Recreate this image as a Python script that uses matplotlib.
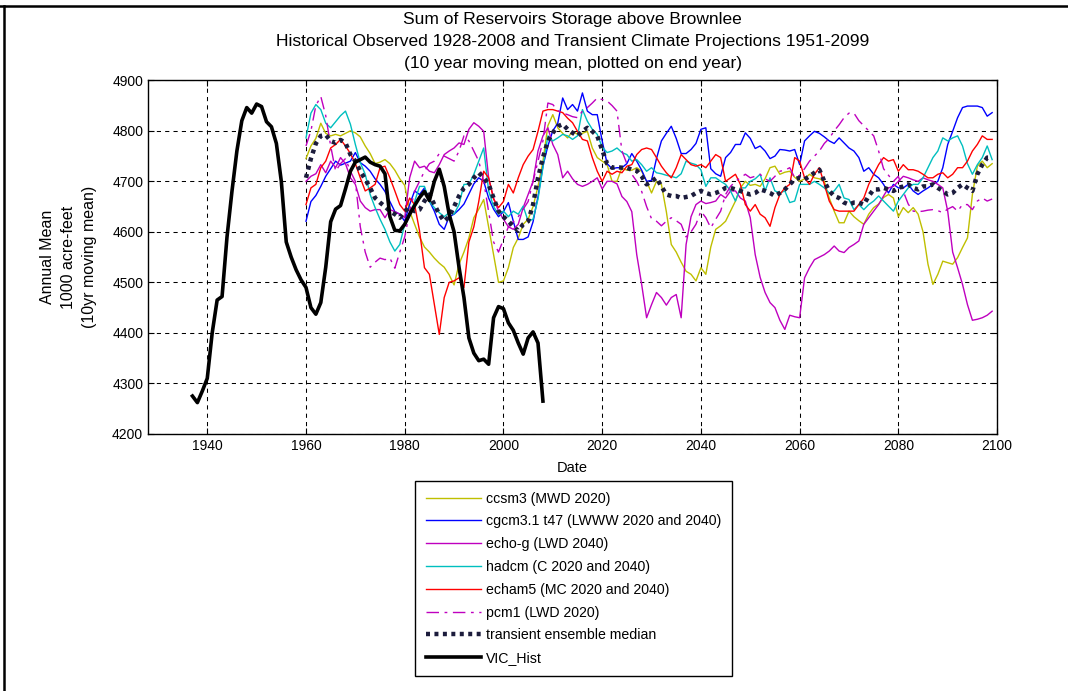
import numpy as np
import matplotlib
matplotlib.use("Agg")
import matplotlib.pyplot as plt
from matplotlib.lines import Line2D

plt.rcParams['font.family'] = ['Liberation Sans', 'DejaVu Sans']

# ---- data ----
hist_years = list(range(1937, 2009))
vic_hist = [4275, 4262, 4285, 4310, 4400, 4465, 4472, 4590, 4680, 4760,
            4820, 4846, 4835, 4853, 4848, 4818, 4808, 4775, 4700, 4580,
            4550, 4525, 4505, 4490, 4450, 4437, 4460, 4530, 4620, 4645,
            4652, 4685, 4720, 4738, 4743, 4748, 4738, 4733, 4730, 4715,
            4630, 4603, 4602, 4615, 4635, 4652, 4668, 4680, 4662, 4700,
            4724, 4690, 4635, 4600, 4530, 4470, 4390, 4360, 4345, 4348,
            4338, 4430, 4452, 4448, 4420, 4405, 4380, 4358, 4390, 4402,
            4380, 4265]

proj_years = list(range(1960, 2100))

ccsm3 = [4745, 4770, 4785, 4815, 4795, 4790, 4793, 4790, 4795, 4800,
         4796, 4788, 4770, 4755, 4735, 4738, 4743, 4735, 4722, 4705,
         4692, 4641, 4615, 4590, 4570, 4560, 4548, 4538, 4530, 4515,
         4495, 4536, 4560, 4588, 4628, 4645, 4664, 4610, 4555, 4500,
         4503, 4529, 4569, 4588, 4615, 4625, 4650, 4690, 4740, 4810,
         4832, 4806, 4795, 4786, 4799, 4793, 4795, 4799, 4766, 4747,
         4740, 4733, 4700, 4700, 4727, 4722, 4722, 4727, 4720, 4700,
         4677, 4700, 4694, 4640, 4575, 4560, 4540, 4522, 4516, 4503,
         4529, 4516, 4570, 4605, 4612, 4621, 4641, 4661, 4687, 4700,
         4692, 4694, 4690, 4705, 4727, 4730, 4714, 4718, 4720, 4708,
         4700, 4705, 4714, 4707, 4705, 4700, 4667, 4641, 4618, 4618,
         4641, 4630, 4622, 4615, 4635, 4648, 4655, 4668, 4674, 4667,
         4630, 4648, 4638, 4648, 4635, 4600, 4536, 4496, 4516, 4542,
         4539, 4536, 4549, 4569, 4588, 4674, 4730, 4740, 4727, 4735]

cgcm31 = [4621, 4660, 4672, 4690, 4710, 4725, 4740, 4732, 4736, 4740,
          4757, 4737, 4730, 4720, 4705, 4694, 4680, 4660, 4640, 4635,
          4621, 4654, 4681, 4674, 4687, 4661, 4641, 4615, 4605, 4630,
          4635, 4644, 4655, 4675, 4695, 4707, 4700, 4667, 4645, 4630,
          4640, 4658, 4621, 4585, 4585, 4590, 4620, 4670, 4730, 4770,
          4800, 4815, 4865, 4842, 4852, 4839, 4875, 4839, 4832, 4832,
          4780, 4735, 4725, 4727, 4727, 4735, 4755, 4740, 4722, 4700,
          4702, 4745, 4780, 4795, 4809, 4785, 4755, 4755, 4763, 4775,
          4803, 4806, 4725, 4715, 4710, 4747, 4757, 4773, 4773, 4796,
          4785, 4765, 4770, 4760, 4745, 4750, 4763, 4762, 4760, 4763,
          4733, 4780, 4790, 4799, 4795, 4788, 4780, 4775, 4786, 4776,
          4766, 4760, 4747, 4720, 4727, 4714, 4707, 4694, 4677, 4694,
          4687, 4687, 4694, 4681, 4674, 4681, 4687, 4694, 4700, 4727,
          4773, 4799, 4826, 4846, 4849, 4849, 4849, 4846, 4829, 4836]

echo_g = [4700, 4710, 4715, 4733, 4717, 4740, 4727, 4747, 4735, 4707,
          4694, 4661, 4648, 4641, 4644, 4644, 4628, 4644, 4640, 4635,
          4628, 4707, 4740, 4727, 4730, 4720, 4717, 4733, 4753, 4760,
          4766, 4776, 4773, 4803, 4816, 4809, 4799, 4707, 4667, 4641,
          4625, 4610, 4605, 4615, 4648, 4674, 4700, 4760, 4790, 4806,
          4773, 4753, 4707, 4720, 4705, 4694, 4690, 4694, 4700, 4707,
          4685, 4700, 4700, 4695, 4670, 4660, 4640, 4555, 4496, 4430,
          4456, 4480, 4470, 4455, 4470, 4476, 4430, 4575, 4630, 4654,
          4661, 4656, 4658, 4661, 4674, 4667, 4681, 4681, 4667, 4661,
          4628, 4555, 4510, 4480, 4460, 4450, 4425, 4407, 4435, 4432,
          4430, 4509, 4529, 4545, 4550, 4555, 4562, 4572, 4562, 4559,
          4569, 4575, 4582, 4615, 4628, 4641, 4654, 4671, 4687, 4690,
          4700, 4710, 4707, 4703, 4700, 4707, 4703, 4700, 4694, 4687,
          4641, 4560, 4529, 4496, 4456, 4425, 4427, 4430, 4435, 4443]

hadcm = [4786, 4835, 4852, 4842, 4815, 4806, 4818, 4830, 4839, 4813,
         4773, 4737, 4714, 4674, 4648, 4625, 4605, 4580, 4562, 4575,
         4615, 4632, 4660, 4690, 4690, 4660, 4648, 4638, 4630, 4638,
         4635, 4654, 4694, 4694, 4714, 4740, 4766, 4681, 4650, 4635,
         4641, 4630, 4641, 4635, 4651, 4621, 4625, 4665, 4727, 4790,
         4780, 4786, 4793, 4790, 4783, 4790, 4842, 4819, 4803, 4793,
         4768, 4757, 4760, 4766, 4757, 4753, 4740, 4743, 4733, 4720,
         4727, 4717, 4715, 4712, 4710, 4707, 4715, 4740, 4736, 4733,
         4723, 4690, 4707, 4707, 4700, 4694, 4681, 4661, 4687, 4687,
         4700, 4705, 4714, 4681, 4707, 4681, 4677, 4681, 4658, 4661,
         4694, 4694, 4694, 4700, 4694, 4687, 4677, 4681, 4694, 4667,
         4664, 4644, 4654, 4644, 4654, 4661, 4671, 4661, 4651, 4641,
         4661, 4674, 4687, 4694, 4694, 4707, 4727, 4747, 4760, 4786,
         4780, 4786, 4790, 4770, 4735, 4714, 4733, 4747, 4770, 4743]

echam5 = [4654, 4687, 4694, 4727, 4740, 4766, 4773, 4783, 4770, 4755,
          4735, 4707, 4681, 4687, 4694, 4727, 4730, 4707, 4681, 4654,
          4641, 4667, 4654, 4602, 4529, 4516, 4456, 4397, 4470, 4500,
          4503, 4509, 4490, 4580, 4610, 4660, 4720, 4707, 4665, 4648,
          4660, 4694, 4677, 4707, 4733, 4750, 4763, 4799, 4839, 4842,
          4842, 4839, 4836, 4825, 4816, 4799, 4783, 4780, 4747, 4720,
          4700, 4720, 4714, 4720, 4717, 4730, 4733, 4753, 4763, 4766,
          4763, 4747, 4730, 4717, 4707, 4727, 4753, 4743, 4733, 4730,
          4733, 4727, 4740, 4753, 4747, 4700, 4707, 4714, 4694, 4654,
          4641, 4654, 4635, 4628, 4611, 4648, 4674, 4687, 4694, 4747,
          4740, 4707, 4694, 4714, 4727, 4694, 4661, 4644, 4641, 4641,
          4641, 4641, 4654, 4667, 4694, 4714, 4733, 4747, 4740, 4743,
          4720, 4733, 4723, 4723, 4720, 4714, 4707, 4707, 4714, 4717,
          4707, 4714, 4727, 4727, 4740, 4760, 4773, 4790, 4783, 4783]

pcm1 = [4770, 4800, 4850, 4868, 4830, 4770, 4720, 4735, 4745, 4720,
        4700, 4610, 4560, 4530, 4540, 4548, 4545, 4548, 4528, 4560,
        4590, 4640, 4680, 4700, 4720, 4735, 4740, 4755, 4750, 4745,
        4740, 4760, 4790, 4780, 4760, 4740, 4700, 4640, 4580, 4560,
        4585, 4610, 4620, 4630, 4645, 4660, 4700, 4740, 4780, 4855,
        4852, 4840, 4835, 4832, 4828, 4826, 4839, 4846, 4855, 4865,
        4862, 4859, 4850, 4839, 4760, 4735, 4714, 4700, 4680, 4650,
        4626, 4621, 4612, 4621, 4628, 4622, 4615, 4590, 4600, 4615,
        4641, 4628, 4608, 4625, 4641, 4674, 4690, 4700, 4707, 4714,
        4707, 4710, 4714, 4705, 4700, 4710, 4720, 4722, 4727, 4707,
        4712, 4725, 4740, 4750, 4760, 4775, 4785, 4800, 4812, 4826,
        4835, 4835, 4820, 4810, 4800, 4790, 4760, 4725, 4712, 4700,
        4710, 4680, 4655, 4641, 4640, 4641, 4643, 4644, 4642, 4638,
        4645, 4650, 4641, 4654, 4654, 4644, 4661, 4667, 4661, 4665]

ens_median = [4707, 4745, 4775, 4790, 4792, 4780, 4776, 4782, 4776, 4753,
              4740, 4720, 4704, 4687, 4667, 4658, 4650, 4641, 4635, 4628,
              4641, 4648, 4641, 4644, 4661, 4674, 4654, 4635, 4621, 4630,
              4650, 4671, 4687, 4694, 4707, 4717, 4707, 4694, 4667, 4641,
              4630, 4621, 4611, 4602, 4615, 4621, 4654, 4707, 4747, 4780,
              4796, 4809, 4813, 4803, 4796, 4790, 4799, 4806, 4799, 4790,
              4762, 4735, 4727, 4728, 4727, 4727, 4723, 4721, 4710, 4694,
              4700, 4707, 4690, 4674, 4671, 4671, 4667, 4669, 4671, 4677,
              4681, 4677, 4674, 4677, 4681, 4687, 4687, 4684, 4681, 4677,
              4674, 4677, 4684, 4681, 4677, 4671, 4677, 4684, 4694, 4704,
              4707, 4704, 4710, 4717, 4723, 4700, 4681, 4671, 4667, 4658,
              4654, 4658, 4658, 4654, 4671, 4684, 4684, 4687, 4684, 4681,
              4687, 4690, 4694, 4687, 4684, 4690, 4690, 4694, 4687, 4681,
              4674, 4677, 4687, 4694, 4687, 4681, 4714, 4733, 4747, 4747]

labels = ["ccsm3 (MWD 2020)",
          "cgcm3.1 t47 (LWWW 2020 and 2040)",
          "echo-g (LWD 2040)",
          "hadcm (C 2020 and 2040)",
          "echam5 (MC 2020 and 2040)",
          "pcm1 (LWD 2020)",
          "transient ensemble median",
          "VIC_Hist"]

# ---- figure ----
fig = plt.figure(figsize=(10.68, 6.91), dpi=100)
ax = fig.add_axes([0.1386, 0.372, 0.795, 0.5118])

ax.plot(proj_years, ccsm3, color=(0.75, 0.75, 0), lw=1, label=labels[0])
ax.plot(proj_years, cgcm31, color=(0, 0, 1), lw=1, label=labels[1])
ax.plot(proj_years, echo_g, color=(0.75, 0, 0.75), lw=1, label=labels[2])
ax.plot(proj_years, hadcm, color=(0, 0.75, 0.75), lw=1, label=labels[3])
ax.plot(proj_years, echam5, color=(1, 0, 0), lw=1, label=labels[4])
ax.plot(proj_years, pcm1, color=(0.75, 0, 0.75), lw=1,
        linestyle=(0, (9, 4, 2, 4)), label=labels[5])
ax.plot(proj_years, ens_median, color='#1c1c3c', lw=3.2,
        linestyle=(0, (0.9, 1.0)), label=labels[6])
ax.plot(hist_years, vic_hist, color='black', lw=2.6, label=labels[7])

ax.set_xlim(1928, 2100)
ax.set_ylim(4200, 4900)
ax.set_xticks(range(1940, 2101, 20))
ax.set_yticks(range(4200, 4901, 100))
ax.tick_params(direction='in', top=True, right=True, labelsize=10, length=4)
ax.grid(True, color='black', linestyle=(0, (4, 4)), linewidth=0.75)
for s in ax.spines.values():
    s.set_linewidth(1)

ax.set_xlabel("Date", fontsize=10.5, labelpad=6)
ax.set_ylabel("Annual Mean\n1000 acre-feet\n(10yr moving mean)", fontsize=11.5,
              linespacing=1.48, labelpad=11)
ax.set_title("Sum of Reservoirs Storage above Brownlee\n"
             "Historical Observed 1928-2008 and Transient Climate Projections 1951-2099\n"
             "(10 year moving mean, plotted on end year)",
             fontsize=12.5, linespacing=1.6, pad=8.5)

leg = fig.legend(loc='upper left', bbox_to_anchor=(0.3886, 0.3039),
                 borderaxespad=0, fontsize=10.2, handlelength=3.9,
                 labelspacing=0.62, fancybox=False, edgecolor='black',
                 framealpha=1, borderpad=0.75, handletextpad=0.35)
leg.get_frame().set_linewidth(1)

# outer border lines of the original screenshot
fig.add_artist(Line2D([0, 1], [1 - 6 / 691, 1 - 6 / 691],
                      transform=fig.transFigure, color='black', lw=1.8))
fig.add_artist(Line2D([3.5 / 1068, 3.5 / 1068], [0, 1 - 6 / 691],
                      transform=fig.transFigure, color='black', lw=1.8))

fig.savefig("out.png", dpi=100)
